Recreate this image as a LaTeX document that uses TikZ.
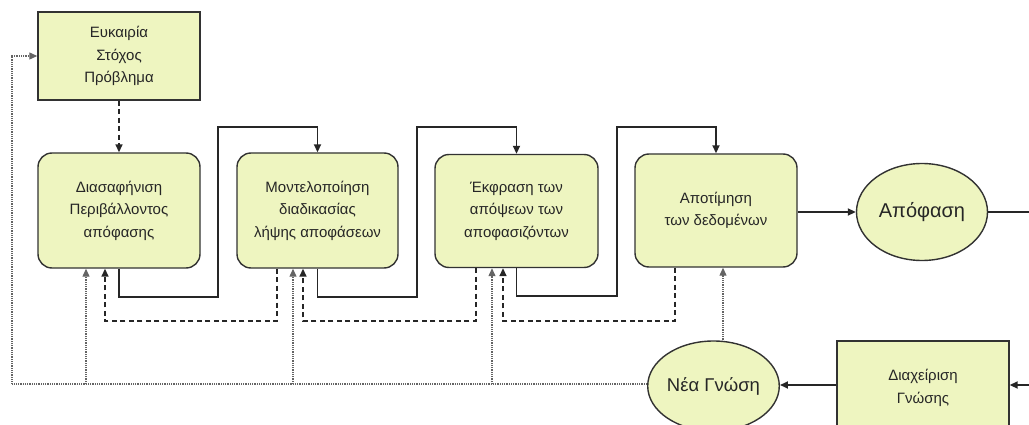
\documentclass[tikz,border=0pt]{standalone}
\usepackage{fontspec}
\setmainfont{Liberation Sans}
\usetikzlibrary{arrows.meta,shapes.geometric}
\definecolor{boxfill}{RGB}{238,245,192}
\definecolor{edgecol}{RGB}{50,50,50}
\definecolor{dotcol}{RGB}{100,100,100}
\tikzset{
  box/.style={draw=edgecol,line width=1.4pt,fill=boxfill,align=center,inner sep=0pt,
     font=\fontsize{15}{22.5}\selectfont,text=black!85},
  rbox/.style={box,rounded corners=14pt},
  oval/.style={ellipse,draw=edgecol,line width=1.4pt,fill=boxfill,inner sep=0pt,text=black!85},
  flow/.style={draw=black!85,line width=1.9pt,-{Triangle[length=8pt,width=7pt]}},
  plain/.style={draw=black!85,line width=1.9pt},
  dsh/.style={draw=black!85,line width=1.6pt,dash pattern=on 5pt off 3.5pt,-{Triangle[length=8pt,width=7pt]}},
  dot/.style={draw=dotcol,line width=1.2pt,dash pattern=on 1pt off 0.8pt,-{Triangle[length=8pt,width=7pt]}},
}
\begin{document}
\begin{tikzpicture}[x=1pt,y=-1pt]
\useasboundingbox (0,0) rectangle (1029,425);
\clip (0,0) rectangle (1029,425);
% nodes
\node[box,minimum width=162pt,minimum height=88pt] (E) at (119,56) {Ευκαιρία\\Στόχος\\Πρόβλημα};
\node[rbox,minimum width=162pt,minimum height=115pt] (B1) at (119,210.5) {Διασαφήνιση\\Περιβάλλοντος\\απόφασης};
\node[rbox,minimum width=161pt,minimum height=115pt] (B2) at (317.5,210.5) {Μοντελοποίηση\\διαδικασίας\\λήψης αποφάσεων};
\node[rbox,minimum width=163pt,minimum height=113pt] (B3) at (516.5,211) {Έκφραση των\\απόψεων των\\αποφασιζόντων};
\node[rbox,minimum width=162pt,minimum height=113pt] (B4) at (716,210.5) {Αποτίμηση\\των δεδομένων};
\node[oval,minimum width=131pt,minimum height=97pt,font=\fontsize{20}{24}\selectfont] (A) at (922,212) {Απόφαση};
\node[oval,minimum width=127pt,minimum height=90pt,font=\fontsize{18.5}{24}\selectfont] (N) at (713.5,386) {Νέα Γνώση};
\node[box,minimum width=172pt,minimum height=94pt] (D) at (923,388) {Διαχείριση\\Γνώσης};
% coordinates
\coordinate (Rin) at (1029,385);
\coordinate (Rout) at (1029,212);
\coordinate (L) at (12,384);
% E -> B1 dashed
\draw[dsh] (E.south) -- (B1.north);
% solid flow B1 -> B2 -> B3 -> B4
\draw[flow] (B1.south) -- ++(0,28) -| (218,127) -| (B2.north);
\draw[flow] (B2.south) -- ++(0,28) -| (417,127) -| (B3.north);
\draw[flow] (B3.south) -- ++(0,28) -| (617,127) -| (B4.north);
% B4 -> A
\draw[flow] (B4.east |- A.west) -- (A.west);
\draw[plain] (A.east) -- (Rout);
% right side into D, D -> N
\draw[flow] (Rin) -- (D.east |- Rin);
\draw[flow] (D.west |- Rin) -- (N.east |- Rin);
% dashed feedback
\draw[dsh] (B2.south -| 277,0) -- (277,321) -| (B1.south -| 105,0);
\draw[dsh] (B3.south -| 476,0) -- (476,321) -| (B2.south -| 303,0);
\draw[dsh] (B4.south -| 675,0) -- (675,321) -| (B3.south -| 503,0);
% dotted knowledge lines
\draw[dot] (N.north -| 723,0) -- (B4.south -| 723,0);
\draw[dot] (N.west |- L) -- (L) |- (E.west);
\draw[dot] (86,384) -- (B1.south -| 86,0);
\draw[dot] (293,384) -- (B2.south -| 293,0);
\draw[dot] (492,384) -- (B3.south -| 492,0);
\end{tikzpicture}
\end{document}
